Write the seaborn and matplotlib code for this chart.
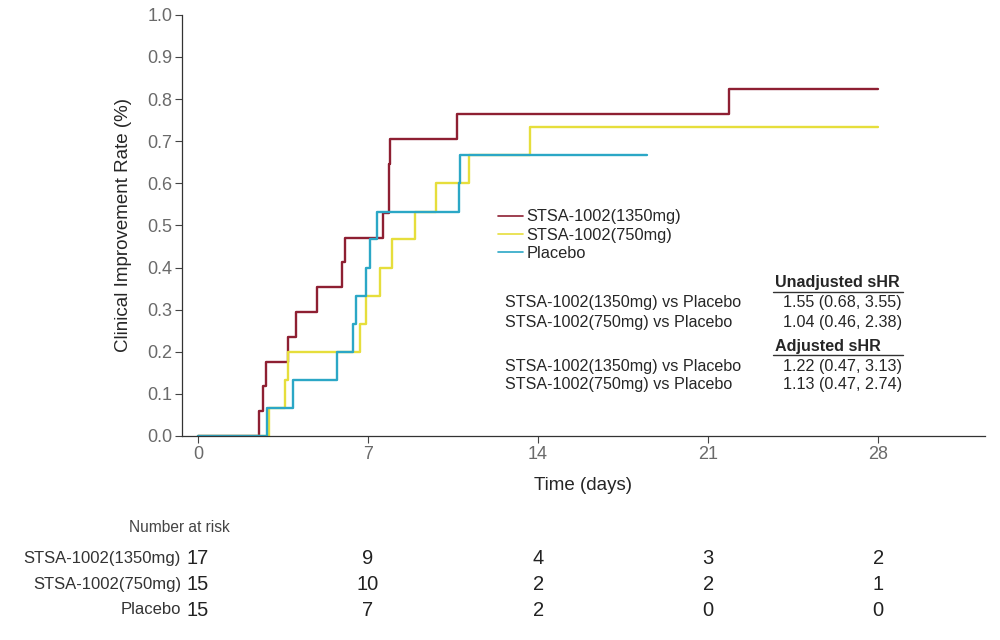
import pandas as pd
import matplotlib
matplotlib.use('Agg')
import matplotlib.pyplot as plt
import seaborn as sns

# cumulative incidence curves (step times in days, rate)
t_1350 = [0, 2.49, 2.66, 2.8, 3.69, 4.03, 4.88, 5.91, 6.05, 7.62, 7.86, 7.88, 7.92, 10.66, 21.84, 28]
r_1350 = [0, 0.059, 0.118, 0.176, 0.235, 0.294, 0.353, 0.412, 0.471, 0.529, 0.588, 0.647, 0.706, 0.765, 0.824, 0.824]

t_750 = [0, 2.94, 3.59, 3.71, 6.67, 6.9, 7.49, 7.97, 8.95, 9.78, 11.15, 13.65, 28]
r_750 = [0, 0.067, 0.133, 0.2, 0.267, 0.333, 0.4, 0.467, 0.533, 0.6, 0.667, 0.733, 0.733]

t_pla = [0, 2.85, 3.89, 5.73, 6.39, 6.52, 6.9, 7.1, 7.38, 10.74, 10.78, 18.5]
r_pla = [0, 0.067, 0.133, 0.2, 0.267, 0.333, 0.4, 0.467, 0.533, 0.6, 0.667, 0.667]

groups = ['STSA-1002(1350mg)', 'STSA-1002(750mg)', 'Placebo']
colors = ['#8E1F32', '#E6DE3C', '#2BA7C6']

risk_times = [0, 7, 14, 21, 28]
risk_1350 = [17, 9, 4, 3, 2]
risk_750 = [15, 10, 2, 2, 1]
risk_pla = [15, 7, 2, 0, 0]

hr_rows = ['STSA-1002(1350mg) vs Placebo', 'STSA-1002(750mg) vs Placebo']
unadj = ['1.55 (0.68, 3.55)', '1.04 (0.46, 2.38)']
adj = ['1.22 (0.47, 3.13)', '1.13 (0.47, 2.74)']

df = pd.concat([
    pd.DataFrame({'time': t_1350, 'rate': r_1350, 'group': groups[0]}),
    pd.DataFrame({'time': t_750, 'rate': r_750, 'group': groups[1]}),
    pd.DataFrame({'time': t_pla, 'rate': r_pla, 'group': groups[2]}),
])

sns.set_style('white')
plt.rcParams['font.family'] = ['Liberation Sans', 'DejaVu Sans']

fig = plt.figure(figsize=(10, 6.4), dpi=100)
ax = fig.add_axes([0.182, 0.3188, 0.803, 0.658])

sns.lineplot(data=df, x='time', y='rate', hue='group', palette=dict(zip(groups, colors)),
             estimator=None, sort=False, drawstyle='steps-post', linewidth=1.7, ax=ax)

ax.set_xlim(-0.66, 32.4)
ax.set_ylim(0, 1.0)
ax.set_xticks(risk_times)
ax.set_yticks([i / 10 for i in range(11)])
ax.set_yticklabels([f'{i / 10:.1f}' for i in range(11)])
ax.tick_params(axis='both', direction='out', length=5, width=0.8, color='#444444',
               labelsize=13, labelcolor='#6a6a6a', pad=2, left=True, bottom=True)
for s in ['top', 'right']:
    ax.spines[s].set_visible(False)
for s in ['left', 'bottom']:
    ax.spines[s].set_color('#333333')
    ax.spines[s].set_linewidth(0.9)

ax.set_xlabel('Time (days)', fontsize=13.5, labelpad=10)
ax.set_ylabel('Clinical Improvement Rate (%)', fontsize=13.5, labelpad=11)

leg = ax.legend(loc='upper left', bbox_to_anchor=(0.3935, 0.538), frameon=False, fontsize=11.8,
                handlelength=1.5, handletextpad=0.25, labelspacing=0.2, borderaxespad=0,
                borderpad=0)
for h in leg.get_lines():
    h.set_linewidth(1.2)

# hazard ratio table
fx = fig.transFigure
fs = 11.6
fig.text(0.775, 1 - 282 / 640, 'Unadjusted sHR', fontsize=fs, fontweight='bold', va='center')
fig.add_artist(plt.Line2D([0.773, 0.903], [1 - 292 / 640] * 2, color='#333333', lw=1, transform=fx))
for i, (row, val) in enumerate(zip(hr_rows, unadj)):
    y = 1 - (302 + 20 * i) / 640
    fig.text(0.505, y, row, fontsize=fs, va='center')
    fig.text(0.902, y, val, fontsize=fs, va='center', ha='right')
fig.text(0.775, 1 - 346 / 640, 'Adjusted sHR', fontsize=fs, fontweight='bold', va='center')
fig.add_artist(plt.Line2D([0.773, 0.903], [1 - 355 / 640] * 2, color='#333333', lw=1, transform=fx))
for i, (row, val) in enumerate(zip(hr_rows, adj)):
    y = 1 - (366 + 19 * i) / 640
    fig.text(0.505, y, row, fontsize=fs, va='center')
    fig.text(0.902, y, val, fontsize=fs, va='center', ha='right')

# number at risk table
fig.text(0.23, 1 - 528 / 640, 'Number at risk', fontsize=11.2, color='#444444', ha='right', va='center')
trans = matplotlib.transforms.blended_transform_factory(ax.transData, fig.transFigure)
for name, counts, ypix in zip(groups, [risk_1350, risk_750, risk_pla], [558, 584, 610]):
    y = 1 - ypix / 640
    fig.text(0.181, y, name, fontsize=12, color='#333333', ha='right', va='center')
    for t, c in zip(risk_times, counts):
        ax.text(t, y, str(c), fontsize=14.5, color='#222222', ha='center', va='center',
                transform=trans, clip_on=False)

fig.savefig('out.png', dpi=100)
